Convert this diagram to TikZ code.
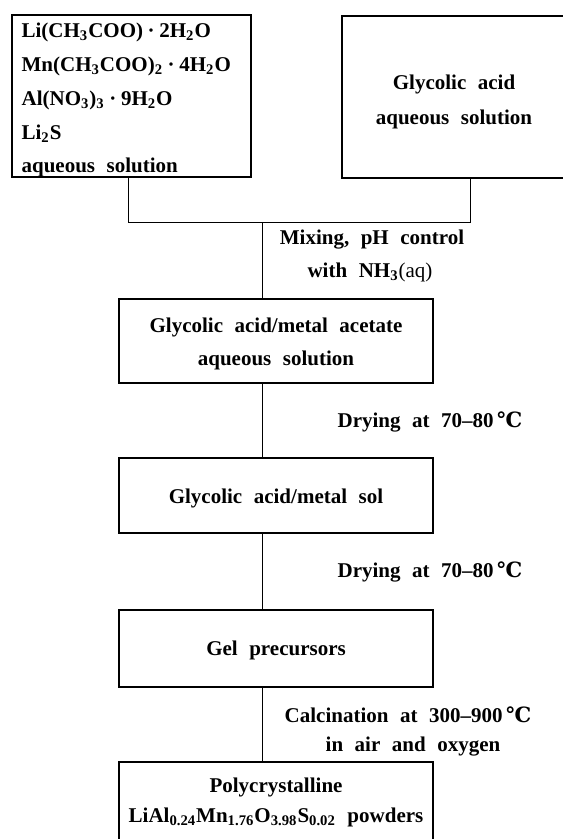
\documentclass[tikz,border=0pt]{standalone}
\usepackage{fontspec}
\setmainfont{Liberation Serif}[WordSpace=2.2]
\newfontfamily\celfont{DejaVu Serif}
\usetikzlibrary{positioning, calc}
\newcommand{\degC}{{\celfont\bfseries ℃}}
\newcommand{\lift}[1]{\rule{0pt}{#1}}
\newcommand{\hyd}{\hspace{0.22em}·\hspace{0.22em}}
\tikzset{
  box/.style={rectangle, draw=black, line width=0.8pt, inner sep=0pt, align=center, font=\fontsize{10.5}{16.5}\selectfont\bfseries},
  saltlist/.style={inner sep=0pt, align=left, font=\fontsize{10.5}{16.9}\selectfont\bfseries},
  lbl/.style={inner sep=0pt, align=center, font=\fontsize{10.5}{16}\selectfont\bfseries},
  line/.style={line width=0.5pt, color=black}
}

\begin{document}
\begin{tikzpicture}[x=0.5pt, y=-0.5pt]
  \useasboundingbox (0,0) rectangle (562,839);
  % Starting solutions
  \node[box, minimum width=119.5pt, minimum height=81pt] (salts) at (131.5,96) {};
  \node[saltlist, anchor=north west] (saltstext) at ($(salts.north west)+(10,8.5)$) {Li(CH\textsubscript{3}COO)\hyd2H\textsubscript{2}O\\Mn(CH\textsubscript{3}COO)\textsubscript{2}\hyd4H\textsubscript{2}O\\Al(NO\textsubscript{3})\textsubscript{3}\hyd9H\textsubscript{2}O\\Li\textsubscript{2}S\\aqueous solution};
  \node[box, minimum width=112pt, minimum height=81pt, font=\fontsize{10.5}{17.5}\selectfont\bfseries] (glyc) at (454,97) {\lift{12pt}Glycolic acid\\aqueous solution};

  % Process chain
  \node[box, minimum width=157pt, minimum height=42pt] (acet) at (276,341) {\lift{10.5pt}Glycolic acid/metal acetate\\aqueous solution};
  \node[box, minimum width=157pt, minimum height=37.5pt] (sol) at (276,495.5) {\lift{10.5pt}Glycolic acid/metal sol};
  \node[box, minimum width=157pt, minimum height=38.5pt] (gel) at (276,648.5) {\lift{9.5pt}Gel precursors};
  \node[box, minimum width=157pt, minimum height=40pt, font=\fontsize{10.5}{15}\selectfont\bfseries] (powder) at (276,802) {Polycrystalline\\LiAl\textsubscript{0.24}Mn\textsubscript{1.76}O\textsubscript{3.98}S\textsubscript{0.02} powders};

  % Junction
  \coordinate (j1) at (128,223);
  \coordinate (j2) at (470,223);
  \coordinate (j0) at (262,223);
  \draw[line] (salts.south -| j1) -- (j1) -- (j2) -- (glyc.south -| j2);
  \draw[line] (j0) -- (acet.north -| j0);
  \draw[line] (acet.south -| j0) -- (sol.north -| j0);
  \draw[line] (sol.south -| j0) -- (gel.north -| j0);
  \draw[line] (gel.south -| j0) -- (powder.north -| j0);

  % Step labels
  \node[lbl] (mix) at (372,240) {Mixing, pH control};
  \node[lbl] (nh) at (370,272) {with NH\textsubscript{3}{\mdseries(aq)}};
  \node[lbl] (dryA) at (430,422) {Drying at 70–80\,\degC};
  \node[lbl] (dryB) at (430,572) {Drying at 70–80\,\degC};
  \node[lbl] (calc) at (408,715) {Calcination at 300–900\,\degC};
  \node[lbl] (air) at (413,747) {in air and oxygen};
\end{tikzpicture}
\end{document}
